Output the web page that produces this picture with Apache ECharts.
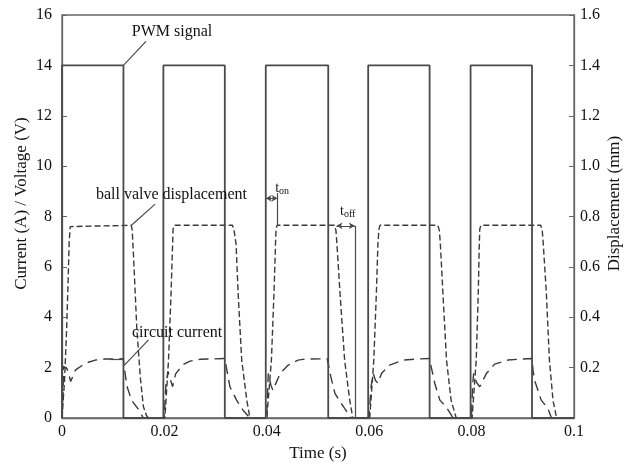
<!DOCTYPE html>
<html>
<head>
<meta charset="utf-8">
<script src="https://cdn.jsdelivr.net/npm/echarts@6/dist/echarts.min.js"></script>
<style>html,body{margin:0;padding:0;background:#fff}#c{width:637px;height:464px}</style>
</head>
<body>
<div id="c"></div>
<script>
// ---- data (time in s) ----
var xTicks = [0, 0.02, 0.04, 0.06, 0.08, 0.1];
var leftTicks = [0, 2, 4, 6, 8, 10, 12, 14, 16];
var rightTicks = [0.2, 0.4, 0.6, 0.8, 1.0, 1.2, 1.4, 1.6];

// PWM signal (V)
var pwmSignal = [
  [0,0],[0,14],[0.012,14],[0.012,0],[0.0198,0],[0.0198,14],[0.0318,14],[0.0318,0],
  [0.0398,0],[0.0398,14],[0.052,14],[0.052,0],[0.0598,0],[0.0598,14],[0.0718,14],[0.0718,0],
  [0.0798,0],[0.0798,14],[0.0918,14],[0.0918,0],[0.1,0]
];

// ball valve displacement (mm)
var ballValveDisplacement = [
  [0,0],[0.0002,0],[0.0005,0.15],[0.0009,0.35],[0.0012,0.55],[0.0014,0.70],[0.0016,0.76],[0.0017,0.765],
  [0.0135,0.765],[0.0137,0.75],[0.0140,0.63],[0.0146,0.36],[0.0153,0.16],[0.0159,0.045],[0.0165,0.01],[0.0169,0],
  [0.0201,0],[0.0208,0.23],[0.0213,0.495],[0.0216,0.69],[0.0217,0.75],[0.0219,0.765],
  [0.0333,0.765],[0.0336,0.745],[0.0340,0.69],[0.0344,0.495],[0.0351,0.23],[0.0361,0.07],[0.0367,0],
  [0.0400,0],[0.0409,0.23],[0.0414,0.495],[0.0417,0.69],[0.0418,0.75],[0.0420,0.765],
  [0.0532,0.765],[0.0535,0.745],[0.0537,0.69],[0.0543,0.495],[0.0552,0.23],[0.0562,0.07],[0.0568,0],
  [0.0601,0],[0.0609,0.23],[0.0614,0.495],[0.0617,0.69],[0.0619,0.75],[0.0621,0.765],
  [0.0734,0.765],[0.0737,0.745],[0.0739,0.69],[0.0744,0.495],[0.0751,0.23],[0.0760,0.07],[0.0770,0],
  [0.0801,0],[0.0809,0.23],[0.0813,0.495],[0.0815,0.69],[0.0816,0.75],[0.0818,0.765],
  [0.0935,0.765],[0.0938,0.745],[0.0940,0.69],[0.0946,0.495],[0.0952,0.23],[0.0959,0.07],[0.0966,0],[0.1,0]
];

// circuit current (A)
var circuitCurrent = [
  [0,0],[0.0002,1.0],[0.0003,2.05],[0.0010,1.95],[0.0017,1.45],[0.0026,1.9],[0.0045,2.17],[0.0065,2.3],[0.0084,2.34],[0.0120,2.35],
  [0.0121,2.1],[0.0127,1.25],[0.0136,0.7],[0.0149,0.35],[0.0159,0],[0.0198,0],
  [0.0200,0.2],[0.0203,1.3],[0.0207,1.85],[0.0212,1.5],[0.0216,1.25],[0.0222,1.75],[0.0235,2.1],[0.0250,2.26],[0.0270,2.33],[0.0318,2.36],
  [0.0322,1.9],[0.0328,1.24],[0.0341,0.71],[0.0354,0.3],[0.0367,0],[0.0398,0],
  [0.0400,0.2],[0.0402,1.3],[0.0403,1.77],[0.0408,1.3],[0.0412,1.1],[0.0426,1.77],[0.0442,2.1],[0.0461,2.3],[0.0474,2.34],[0.0518,2.35],
  [0.0525,1.64],[0.0533,0.98],[0.0543,0.65],[0.0552,0.38],[0.0565,0],[0.0598,0],
  [0.0600,0.2],[0.0604,1.3],[0.0608,1.77],[0.0612,1.5],[0.0617,1.38],[0.0624,1.77],[0.0640,2.1],[0.0666,2.3],[0.0692,2.34],[0.0718,2.36],
  [0.0721,2.04],[0.0728,1.38],[0.0738,0.71],[0.0750,0.45],[0.0764,0],[0.0798,0],
  [0.0800,0.2],[0.0802,1.3],[0.0804,1.77],[0.0810,1.4],[0.0816,1.24],[0.0829,1.77],[0.0845,2.14],[0.0871,2.3],[0.0897,2.34],[0.0918,2.36],
  [0.0920,1.9],[0.0923,1.5],[0.0936,0.71],[0.0949,0.38],[0.0956,0],[0.1,0]
];

// annotation anchors (data coords, left axis units)
var annoLeaders = [
  [[0.0120,14.0],[0.0164,14.95]],
  [[0.01345,7.63],[0.0182,8.49]],
  [[0.0121,2.08],[0.0169,3.1]],
  [[0.0094,2.34],[0.0120,2.34]],
  [[0.0421,8.93],[0.0421,7.63]],
  [[0.0572,7.63],[0.0572,0]]
];
var annoArrows = [
  [[0.0398,8.72],[0.0421,8.72]],
  [[0.0536,7.63],[0.0572,7.63]]
];
var annoTexts = [
  {text:'PWM signal', at:[0.0215,15.33]},
  {text:'ball valve displacement', at:[0.02137,8.85]},
  {text:'circuit current', at:[0.02248,3.38]},
  {text:'{t|t}{s|on}', at:[0.0430,9.13]},
  {text:'{t|t}{s|off}', at:[0.0558,8.19]}
];

var FONT = '"Liberation Serif","DejaVu Serif",serif';
var TXT = '#111';
var LINE = '#4a4a4a';

var chart = echarts.init(document.getElementById('c'), null, {renderer:'canvas'});

function leaderData(list){
  return list.map(function(p){return [{coord:p[0]},{coord:p[1]}];});
}

chart.setOption({
  animation:false,
  backgroundColor:'#fff',
  grid:{left:62, right:63, top:15, bottom:46, show:true, borderColor:'#666', borderWidth:1.3,
        containLabel:false, outerBoundsMode:'none'},
  xAxis:{
    type:'value', min:0, max:0.1, interval:0.02,
    name:'Time (s)', nameLocation:'middle', nameGap:27, nameMoveOverlap:false,
    nameTextStyle:{fontFamily:FONT, fontSize:17, color:TXT},
    axisLine:{show:true, lineStyle:{color:'#666', width:1.3}},
    axisTick:{show:true, inside:true, length:5, lineStyle:{color:'#666'}},
    axisLabel:{fontFamily:FONT, fontSize:16, color:TXT, margin:6,
      formatter:function(v){return xTicks.indexOf(Math.round(v*100)/100)>=0 ? String(Math.round(v*100)/100) : '';}},
    splitLine:{show:false}
  },
  yAxis:[{
    type:'value', min:0, max:16, interval:2, position:'left',
    name:'Current (A) / Voltage (V)', nameLocation:'middle', nameGap:32, nameMoveOverlap:false,
    nameTextStyle:{fontFamily:FONT, fontSize:17, color:TXT, padding:[0,0,0,26]},
    axisLine:{show:true, lineStyle:{color:'#666', width:1.3}},
    axisTick:{show:true, inside:true, length:5, lineStyle:{color:'#666'}},
    axisLabel:{fontFamily:FONT, fontSize:16, color:TXT, margin:10,
      formatter:function(v){return leftTicks.indexOf(v)>=0 ? String(v) : '';}},
    splitLine:{show:false}
  },{
    type:'value', min:0, max:1.6, interval:0.2, position:'right',
    name:'Displacement (mm)', nameLocation:'middle', nameGap:32, nameMoveOverlap:false,
    nameTextStyle:{fontFamily:FONT, fontSize:17, color:TXT, padding:[0,0,0,26]},
    axisLine:{show:true, lineStyle:{color:'#666', width:1.3}},
    axisTick:{show:true, inside:true, length:5, lineStyle:{color:'#666'}},
    axisLabel:{fontFamily:FONT, fontSize:16, color:TXT, margin:6,
      formatter:function(v){var r=Math.round(v*10)/10; return rightTicks.indexOf(r)>=0 ? r.toFixed(1) : '';}},
    splitLine:{show:false}
  }],
  series:[
    {name:'PWM signal', type:'line', data:pwmSignal, yAxisIndex:0, symbol:'none',
     lineStyle:{color:LINE, width:1.8}, z:3},
    {name:'ball valve displacement', type:'line', data:ballValveDisplacement, yAxisIndex:1, symbol:'none',
     lineStyle:{color:'#3a3a3a', width:1.4, type:[6,3]}, z:2},
    {name:'circuit current', type:'line', data:circuitCurrent, yAxisIndex:0, symbol:'none',
     lineStyle:{color:'#3a3a3a', width:1.4, type:[10,6]}, z:2},
    {name:'annotations', type:'line', data:[], yAxisIndex:0, symbol:'none',
     markLine:{silent:true, symbol:['none','none'], animation:false,
       label:{show:false}, lineStyle:{color:LINE, width:1.2, type:'solid'},
       data:leaderData(annoLeaders)}},
    {name:'arrows', type:'line', data:[], yAxisIndex:0, symbol:'none',
     markLine:{silent:true, symbol:['arrow','arrow'], symbolSize:[5,6], animation:false,
       label:{show:false}, lineStyle:{color:LINE, width:1, type:'solid'},
       data:leaderData(annoArrows)}}
  ]
});

var g = annoTexts.map(function(a){
  var p = chart.convertToPixel({xAxisIndex:0, yAxisIndex:0}, a.at);
  return {type:'text', x:p[0], y:p[1], z:10,
    style:{text:a.text, fontFamily:FONT, fontSize:16, fill:TXT, align:'center', verticalAlign:'middle',
      rich:{t:{fontFamily:FONT, fontSize:14, fill:TXT}, s:{fontFamily:FONT, fontSize:10, fill:TXT, padding:[6,0,0,0]}}}};
});
chart.setOption({graphic:g});
</script>
</body>
</html>
